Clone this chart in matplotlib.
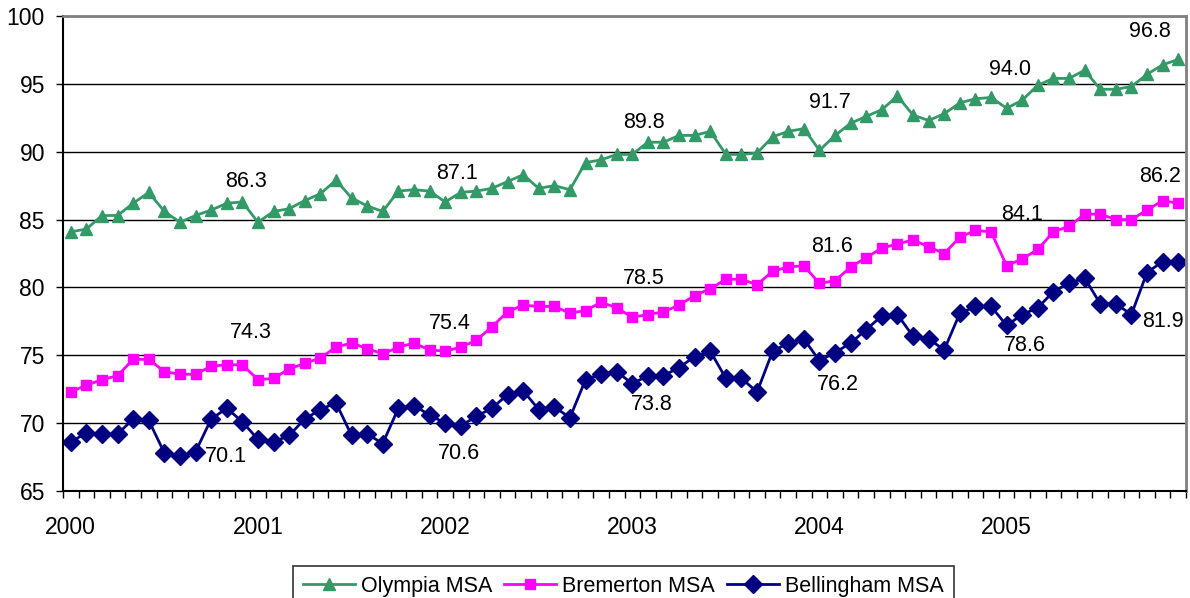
import numpy as np
import matplotlib.pyplot as plt

plt.rcParams['font.family'] = ['Liberation Sans', 'DejaVu Sans']

years = ['2000', '2001', '2002', '2003', '2004', '2005']

olympia = [
    84.1, 84.3, 85.3, 85.3, 86.2, 87.0, 85.6, 84.8, 85.3, 85.7, 86.2, 86.3,
    84.8, 85.6, 85.8, 86.4, 86.9, 87.9, 86.6, 86.0, 85.6, 87.1, 87.2, 87.1,
    86.3, 87.0, 87.1, 87.3, 87.8, 88.3, 87.3, 87.5, 87.2, 89.2, 89.4, 89.8,
    89.8, 90.7, 90.7, 91.2, 91.2, 91.5, 89.8, 89.8, 89.9, 91.1, 91.5, 91.7,
    90.1, 91.2, 92.1, 92.6, 93.1, 94.1, 92.7, 92.3, 92.8, 93.6, 93.9, 94.0,
    93.2, 93.8, 94.9, 95.4, 95.4, 96.0, 94.6, 94.6, 94.8, 95.7, 96.4, 96.8]

bremerton = [
    72.3, 72.8, 73.2, 73.5, 74.7, 74.7, 73.8, 73.6, 73.6, 74.2, 74.3, 74.3,
    73.2, 73.3, 74.0, 74.4, 74.8, 75.6, 75.9, 75.5, 75.1, 75.6, 75.9, 75.4,
    75.3, 75.6, 76.1, 77.1, 78.2, 78.7, 78.6, 78.6, 78.1, 78.3, 78.9, 78.5,
    77.8, 78.0, 78.2, 78.7, 79.4, 79.9, 80.6, 80.6, 80.2, 81.2, 81.5, 81.6,
    80.3, 80.5, 81.5, 82.2, 82.9, 83.2, 83.5, 83.0, 82.5, 83.7, 84.2, 84.1,
    81.6, 82.1, 82.8, 84.1, 84.5, 85.4, 85.4, 85.0, 85.0, 85.7, 86.4, 86.2]

bellingham = [
    68.6, 69.3, 69.2, 69.2, 70.3, 70.2, 67.8, 67.6, 67.9, 70.3, 71.1, 70.1,
    68.8, 68.6, 69.1, 70.3, 71.0, 71.5, 69.1, 69.2, 68.5, 71.1, 71.3, 70.6,
    70.0, 69.8, 70.5, 71.1, 72.1, 72.4, 71.0, 71.2, 70.4, 73.2, 73.6, 73.8,
    72.9, 73.5, 73.5, 74.1, 74.9, 75.3, 73.3, 73.3, 72.3, 75.3, 75.9, 76.2,
    74.6, 75.2, 75.9, 76.9, 77.9, 78.0, 76.4, 76.2, 75.4, 78.1, 78.6, 78.6,
    77.2, 78.0, 78.5, 79.7, 80.3, 80.7, 78.8, 78.8, 78.0, 81.1, 81.9, 81.9]

# December of each year gets a value label
label_idx = [11, 23, 35, 47, 59, 71]

# label offsets in pixels (dx, dy) from the point
olympia_off = [(4, 20), (27, 18), (27, 32), (26, 26), (19, 28), (-28, 28)]
bremerton_off = [(8, 32), (20, 26), (27, 29), (28, 19), (31, 17), (-18, 27)]
bellingham_off = [(-16, -35), (29, -38), (35, -33), (34, -46), (34, -39), (-15, -60)]

x = np.arange(len(olympia))

fig = plt.figure(figsize=(11.9, 5.98), dpi=100)
ax = fig.add_axes([63 / 1190, 1 - 491 / 598, 1123 / 1190, 475 / 598])

ax.plot(x, olympia, '-^', color='#339966', lw=2, ms=9, label='Olympia MSA')
ax.plot(x, bremerton, '-s', color='#FF00FF', lw=2, ms=7, label='Bremerton MSA')
ax.plot(x, bellingham, '-D', color='#000080', lw=2, ms=9, label='Bellingham MSA')

for vals, offs in [(olympia, olympia_off), (bremerton, bremerton_off), (bellingham, bellingham_off)]:
    for i, (dx, dy) in zip(label_idx, offs):
        ax.annotate(f'{vals[i]:.1f}', (x[i], vals[i]), xytext=(dx, dy),
                    textcoords='offset pixels', ha='center', va='center',
                    fontsize=15.5, color='black')

ax.set_xlim(-0.5, len(x) - 0.5)
ax.set_ylim(65, 100)
ax.set_yticks(np.arange(65, 101, 5))
ax.yaxis.grid(True, color='black', lw=1)
ax.set_axisbelow(True)

ax.set_xticks(x[::12])
ax.set_xticklabels(years)
ax.set_xticks(np.arange(-0.5, len(x), 1), minor=True)
ax.tick_params(axis='x', which='major', length=0, pad=18, labelsize=16.5)
ax.tick_params(axis='x', which='minor', length=5, width=1, direction='out')
ax.tick_params(axis='y', length=5, width=1, pad=8, labelsize=16.5)

ax.spines['left'].set_linewidth(1.5)
ax.spines['bottom'].set_linewidth(1.5)
ax.spines['top'].set_color('#808080')
ax.spines['right'].set_color('#808080')
ax.spines['top'].set_linewidth(2)
ax.spines['right'].set_linewidth(2)

leg = fig.legend(loc='upper center', bbox_to_anchor=(623.5 / 1190, 1 - 566 / 598),
                 ncol=3, frameon=True, fontsize=15.5, handlelength=2.4,
                 columnspacing=0.55, handletextpad=0.3, borderpad=0.45,
                 borderaxespad=0, fancybox=False, edgecolor='black')
leg.get_frame().set_linewidth(1.2)

fig.savefig('out.png', dpi=100)
